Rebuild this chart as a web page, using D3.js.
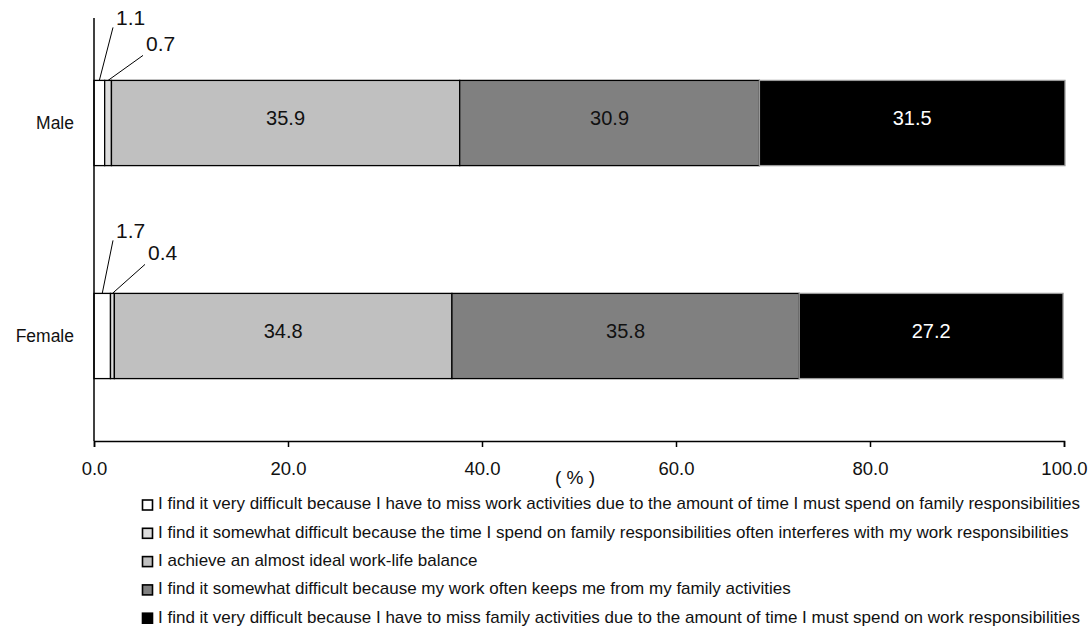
<!DOCTYPE html>
<html>
<head>
<meta charset="utf-8">
<script src="https://cdn.jsdelivr.net/npm/d3@7"></script>
<style>
  body { margin: 0; background: #fff; }
  svg { display: block; font-family: "Liberation Sans", Arial, sans-serif; }
</style>
</head>
<body>
<svg width="1088" height="631"></svg>
<script>
// data
const groups = ['Male', 'Female'];
const answers = [
  'I find it very difficult because I have to miss work activities due to the amount of time I must spend on family responsibilities',
  'I find it somewhat difficult because the time I spend on family responsibilities often interferes with my work responsibilities',
  'I achieve an almost ideal work-life balance',
  'I find it somewhat difficult because my work often keeps me from my family activities',
  'I find it very difficult because I have to miss family activities due to the amount of time I must spend on work responsibilities'
];
const maleValues = [1.1, 0.7, 35.9, 30.9, 31.5];
const femaleValues = [1.7, 0.4, 34.8, 35.8, 27.2];
const xTicks = [0, 20, 40, 60, 80, 100];
const fills = ['#ffffff', '#dcdcdc', '#c0c0c0', '#808080', '#000000'];

const svg = d3.select('svg');

const x = d3.scaleLinear().domain([0, 100]).range([94, 1064]);
const y = d3.scaleBand().domain(groups).range([18, 441])
  .paddingInner(0.6).paddingOuter(0.293);

// stack rows
const rows = groups.map((g, i) => {
  const vals = i === 0 ? maleValues : femaleValues;
  let acc = 0;
  return vals.map((v, k) => {
    const seg = { group: g, k, v, x0: acc, x1: acc + v };
    acc += v;
    return seg;
  });
});
const segs = rows.flat();

// bars
svg.append('g').selectAll('rect')
  .data(segs)
  .join('rect')
  .attr('x', d => x(d.x0))
  .attr('y', d => y(d.group))
  .attr('width', d => x(d.x1) - x(d.x0))
  .attr('height', y.bandwidth())
  .attr('fill', d => fills[d.k])
  .attr('stroke', d => d.k === 4 ? '#999' : '#000')
  .attr('stroke-width', 1.3);

// labels inside the big segments
svg.append('g').selectAll('text')
  .data(segs.filter(d => d.k >= 2))
  .join('text')
  .attr('x', d => x((d.x0 + d.x1) / 2))
  .attr('y', d => y(d.group) + y.bandwidth() / 2 - 3)
  .attr('text-anchor', 'middle')
  .attr('dominant-baseline', 'middle')
  .attr('font-size', 20)
  .attr('fill', d => d.k === 4 ? '#fff' : '#111')
  .text(d => d.v.toFixed(1));

// small segment labels with leader lines
const callouts = [
  { k: 0, dx: 22, up: 55 },
  { k: 1, dx: 52, up: 29 }
];
groups.forEach((g, gi) => {
  callouts.forEach(c => {
    const d = rows[gi][c.k];
    const top = y(g);
    const bx = x((d.x0 + d.x1) / 2);
    const tx = x(0) + c.dx + (gi === 1 && c.k === 1 ? 2 : 0);
    const upBy = gi === 1 && c.k === 1 ? c.up + 4 : c.up;
    svg.append('line')
      .attr('x1', bx).attr('y1', top)
      .attr('x2', tx - 3).attr('y2', top - upBy + 4 + (c.k === 0 ? -2 : 0))
      .attr('stroke', '#000').attr('stroke-width', 1);
    svg.append('text')
      .attr('x', tx)
      .attr('y', top - upBy)
      .attr('font-size', 21)
      .attr('fill', '#111')
      .text(d.v.toFixed(1));
  });
});

// axes
const xAxis = svg.append('g')
  .attr('transform', 'translate(0,441)')
  .call(d3.axisBottom(x).tickValues(xTicks).tickFormat(d3.format('.1f')).tickSize(6).tickSizeOuter(6));
xAxis.select('.domain').attr('stroke', '#000').attr('stroke-width', 1.5);
xAxis.selectAll('.tick line').attr('stroke-width', 1.5);
xAxis.selectAll('.tick text')
  .attr('font-size', 18.5).attr('font-family', '"Liberation Sans", Arial, sans-serif')
  .attr('fill', '#111').attr('dy', null).attr('y', 34);

const yAxis = svg.append('g')
  .attr('transform', `translate(${x(0)},0)`)
  .call(d3.axisLeft(y).tickSize(0).tickPadding(20));
yAxis.select('.domain').attr('d', 'M0,18V441').attr('stroke', '#000').attr('stroke-width', 1.5);
yAxis.selectAll('.tick text')
  .attr('font-size', 17.5).attr('font-family', '"Liberation Sans", Arial, sans-serif')
  .attr('fill', '#111');

svg.append('text')
  .attr('x', 575).attr('y', 484)
  .attr('text-anchor', 'middle')
  .attr('font-size', 19).attr('fill', '#111')
  .text('( % )');

// legend
const legend = svg.append('g').selectAll('g')
  .data(answers)
  .join('g')
  .attr('transform', (d, i) => `translate(142,${505 + i * 28.3})`);
legend.append('rect')
  .attr('x', 0.5).attr('y', -5)
  .attr('width', 10).attr('height', 10)
  .attr('fill', (d, i) => fills[i])
  .attr('stroke', '#000').attr('stroke-width', 1.6);
legend.append('text')
  .attr('x', 16).attr('y', 0)
  .attr('dominant-baseline', 'middle')
  .attr('font-size', 17).attr('fill', '#111')
  .text(d => d);
</script>
</body>
</html>
